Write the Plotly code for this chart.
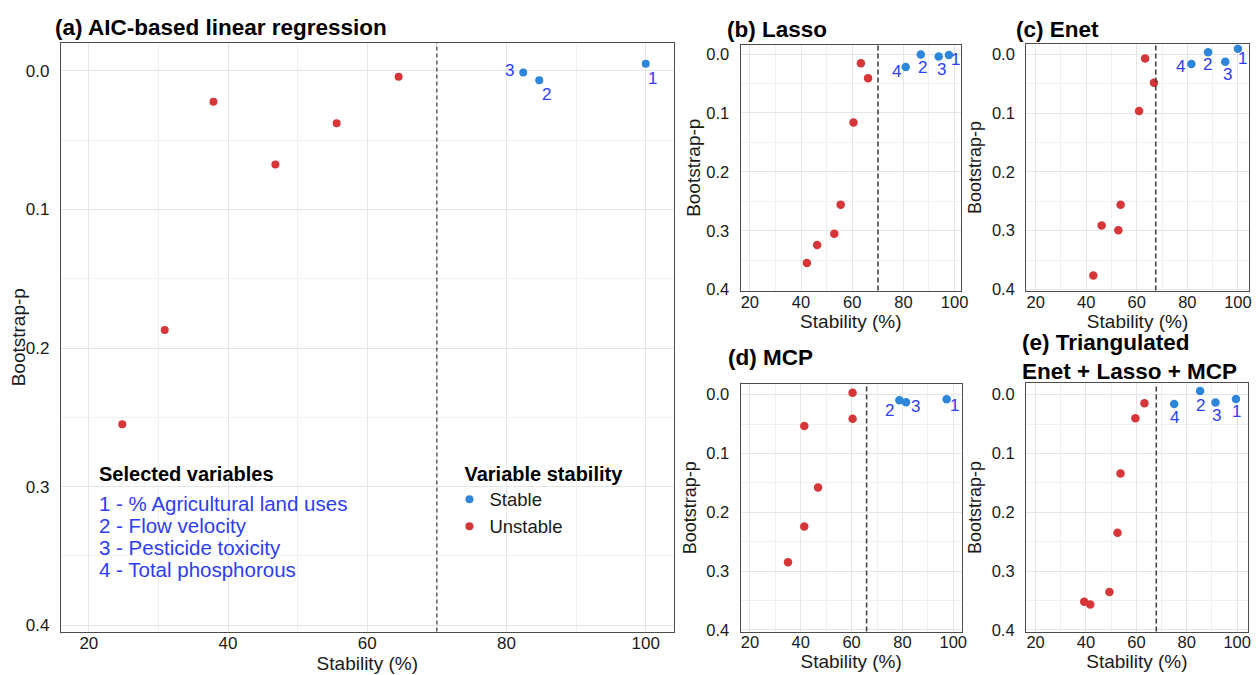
import plotly.graph_objects as go

W, H = 1260, 675

# ------------------------------------------------------------------ data
panel_titles = [
    "(a) AIC-based linear regression",
    "(b) Lasso",
    "(c) Enet",
    "(d) MCP",
    "(e) Triangulated<br>Enet + Lasso + MCP",
]
stability_thresholds = [70.0, 70.1, 67.5, 65.9, 67.9]

# (a) AIC-based linear regression
a_stable_labels = ["1", "2", "3"]
a_stable_x = [100.0, 84.7, 82.4]
a_stable_y = [-0.0052, 0.0067, 0.0012]
a_unstable_x = [64.5, 55.6, 37.9, 46.8, 30.9, 24.8]
a_unstable_y = [0.0043, 0.0378, 0.0223, 0.0675, 0.187, 0.255]

# (b) Lasso
b_stable_labels = ["1", "2", "3", "4"]
b_stable_x = [97.8, 86.8, 93.8, 80.9]
b_stable_y = [0.0017, 0.0006, 0.0040, 0.0218]
b_unstable_x = [63.4, 66.2, 60.5, 55.5, 53.0, 46.3, 42.3]
b_unstable_y = [0.0157, 0.0408, 0.116, 0.2556, 0.305, 0.324, 0.3546]

# (c) Enet
c_stable_labels = ["1", "2", "3", "4"]
c_stable_x = [100.0, 88.2, 95.0, 81.6]
c_stable_y = [-0.0090, -0.0034, 0.0129, 0.0168]
c_unstable_x = [63.3, 66.8, 60.9, 53.6, 46.1, 52.7, 42.8]
c_unstable_y = [0.0073, 0.0487, 0.0968, 0.2557, 0.291, 0.2994, 0.376]

# (d) MCP
d_stable_labels = ["1", "2", "3"]
d_stable_x = [97.4, 78.8, 81.4]
d_stable_y = [0.0078, 0.0095, 0.0129]
d_unstable_x = [60.4, 60.4, 41.4, 46.8, 41.4, 35.0]
d_unstable_y = [-0.0034, 0.0409, 0.0532, 0.158, 0.224, 0.285]

# (e) Triangulated Enet + Lasso + MCP
e_stable_labels = ["1", "2", "3", "4"]
e_stable_x = [99.5, 85.3, 91.4, 75.0]
e_stable_y = [0.0073, -0.0062, 0.0134, 0.0157]
e_unstable_x = [63.2, 59.6, 53.7, 52.5, 49.3, 39.3, 41.7]
e_unstable_y = [0.0146, 0.0403, 0.134, 0.235, 0.3356, 0.352, 0.357]

x_ticks = [20, 40, 60, 80, 100]
y_ticks = [0.0, 0.1, 0.2, 0.3, 0.4]

selected_vars_title = "Selected variables"
selected_vars = [
    "1 - % Agricultural land uses",
    "2 - Flow velocity",
    "3 - Pesticide toxicity",
    "4 - Total phosphorous",
]
legend_title = "Variable stability"
group_names = ["Stable", "Unstable"]

panels = [
    (a_stable_labels, a_stable_x, a_stable_y, a_unstable_x, a_unstable_y),
    (b_stable_labels, b_stable_x, b_stable_y, b_unstable_x, b_unstable_y),
    (c_stable_labels, c_stable_x, c_stable_y, c_unstable_x, c_unstable_y),
    (d_stable_labels, d_stable_x, d_stable_y, d_unstable_x, d_unstable_y),
    (e_stable_labels, e_stable_x, e_stable_y, e_unstable_x, e_unstable_y),
]

# ------------------------------------------------------------------ style / layout
FONT = "Liberation Sans, Arial, Helvetica, sans-serif"
NARROW = "Liberation Sans Narrow, Arial Narrow, Liberation Sans, Arial, sans-serif"
BLUE = "#2E86DA"
RED = "#D63638"
LABEL_BLUE = "#2D3DF5"

# pixel boxes: (left, right, top, bottom)
boxes = [
    (53.3, 669.3, 35.3, 631.0),
    (736.7, 958.3, 37.3, 286.0),
    (1024.0, 1247.7, 36.7, 286.0),
    (736.7, 959.0, 380.3, 631.0),
    (1023.7, 1246.7, 380.0, 631.0),
]
x_ranges = [[16.0, 104.0], [16.4, 102.5], [16.3, 104.3], [16.35, 103.3], [16.2, 104.2]]
y_ranges = [[0.4046, -0.0202], [0.4016, -0.0157], [0.4018, -0.0168],
            [0.4028, -0.0185], [0.4028, -0.0190]]
tick_sizes = [17, 16.5, 16.5, 16.5, 16.5]
ytitle_standoff = [2, 0, 5, 4, 5]
ytitle_sizes = [19, 19, 18, 18, 18]
marker_sizes = [8, 8.5, 8.5, 8.5, 8.5]
dash_styles = [dict(color="#111111", width=1.0, dash="4px,3px")] + \
              [dict(color="#444444", width=1.6, dash="5px,3px")] * 4
# label offsets (px right, px down) for stable point labels
label_offsets = [
    {"1": (7, 15), "2": (7.5, 14.5), "3": (-14, -2.5)},
    {"1": (7, 4), "2": (1.3, 13), "3": (2.3, 13.3), "4": (-8.7, 4.7)},
    {"1": (5, 9.3), "2": (-1, 12.7), "3": (2.7, 13), "4": (-10.7, 2)},
    {"1": (7.7, 6.3), "2": (-9.7, 10.3), "3": (9.3, 4)},
    {"1": (1, 12.3), "2": (0.7, 14), "3": (1, 13.3), "4": (0.7, 13.3)},
]
title_pos = [(45, 19.5), (721.5, 21.5), (1011.5, 21.5), (722.5, 354), (1018, 353.5)]

fig = go.Figure()
layout = dict(
    width=W, height=H,
    margin=dict(l=0, r=0, t=0, b=0),
    paper_bgcolor="white", plot_bgcolor="white",
    font=dict(family=FONT, color="#1A1A1A"),
    shapes=[], annotations=[],
)

for i, (lab, sx, sy, ux, uy) in enumerate(panels):
    n = "" if i == 0 else str(i + 1)
    xa, ya = "x" + n, "y" + n
    left, right, top, bottom = boxes[i]

    fig.add_trace(go.Scatter(
        x=sx, y=sy, mode="markers", xaxis=xa, yaxis=ya,
        name=group_names[0], legendgroup="stable", showlegend=(i == 0),
        marker=dict(color=BLUE, size=marker_sizes[i], line=dict(width=0)),
        text=lab, hovertemplate="%{text}: %{x}, %{y}<extra></extra>",
    ))
    fig.add_trace(go.Scatter(
        x=ux, y=uy, mode="markers", xaxis=xa, yaxis=ya,
        name=group_names[1], legendgroup="unstable", showlegend=(i == 0),
        marker=dict(color=RED, size=marker_sizes[i], line=dict(width=0)),
    ))

    common_grid = dict(
        showgrid=True, gridcolor="#E6E6E6", gridwidth=1.2,
        minor=dict(showgrid=True, gridcolor="#F1F1F1", gridwidth=0.8),
        showline=True, linecolor="#4D4D4D", linewidth=1.3, mirror=True,
        zeroline=False, ticks="",
        tickfont=dict(family=NARROW, size=tick_sizes[i], color="#1A1A1A"),
    )
    layout["xaxis" + n] = dict(
        domain=[left / W, right / W], range=x_ranges[i], anchor=ya,
        tickvals=x_ticks, ticklabelstandoff=-4,
        minor_dtick=10, minor_tick0=0,
        title=dict(text="Stability (%)", standoff=0,
                   font=dict(family=FONT, size=19, color="#1A1A1A")),
        **common_grid,
    )
    layout["yaxis" + n] = dict(
        domain=[1 - bottom / H, 1 - top / H], range=y_ranges[i], anchor=xa,
        tickvals=y_ticks, tickformat=".1f", ticklabelstandoff=7,
        minor_dtick=0.05, minor_tick0=0,
        title=dict(text="Bootstrap-p", standoff=ytitle_standoff[i],
                   font=dict(family=FONT, size=ytitle_sizes[i], color="#1A1A1A")),
        **common_grid,
    )

    # stability threshold line
    layout["shapes"].append(dict(
        type="line", xref=xa, yref=ya + " domain",
        x0=stability_thresholds[i], x1=stability_thresholds[i], y0=0, y1=1,
        line=dash_styles[i], layer="above",
    ))

    # labels of the stable variables
    for l, x, y in zip(lab, sx, sy):
        dx, dy = label_offsets[i][l]
        layout["annotations"].append(dict(
            x=x, y=y, xref=xa, yref=ya, text=l, showarrow=False,
            xshift=dx, yshift=-dy,
            font=dict(family=FONT, size=17, color=LABEL_BLUE),
        ))

    # panel title
    tx, ty = title_pos[i]
    layout["annotations"].append(dict(
        x=tx / W, y=1 - ty / H, xref="paper", yref="paper",
        xanchor="left", yanchor="middle", align="left", showarrow=False,
        text="<b>" + panel_titles[i].replace("<br>", "</b><br><b>") + "</b>",
        font=dict(family=FONT, size=22.5, color="#000000"),
    ))

# "Selected variables" key inside panel (a)
layout["annotations"].append(dict(
    x=89 / W, y=1 - 472 / H, xref="paper", yref="paper",
    xanchor="left", yanchor="middle", showarrow=False,
    text="<b>" + selected_vars_title + "</b>",
    font=dict(family=FONT, size=20, color="#000000"),
))
for k, t in enumerate(selected_vars):
    layout["annotations"].append(dict(
        x=89 / W, y=1 - (501 + 22.4 * k) / H, xref="paper", yref="paper",
        xanchor="left", yanchor="middle", showarrow=False,
        text=t, font=dict(family=FONT, size=20.5, color=LABEL_BLUE),
    ))

layout["legend"] = dict(
    x=457 / W, y=1 - 452 / H, xanchor="left", yanchor="top",
    bgcolor="rgba(0,0,0,0)", borderwidth=0,
    title=dict(text="<b>" + legend_title + "</b>",
               font=dict(family=FONT, size=20, color="#000000")),
    font=dict(family=FONT, size=18.5, color="#1A1A1A"),
    indentation=-13, itemwidth=30, tracegroupgap=0,
)
layout["showlegend"] = True

fig.update_layout(**layout)
fig.write_html("out.html")
